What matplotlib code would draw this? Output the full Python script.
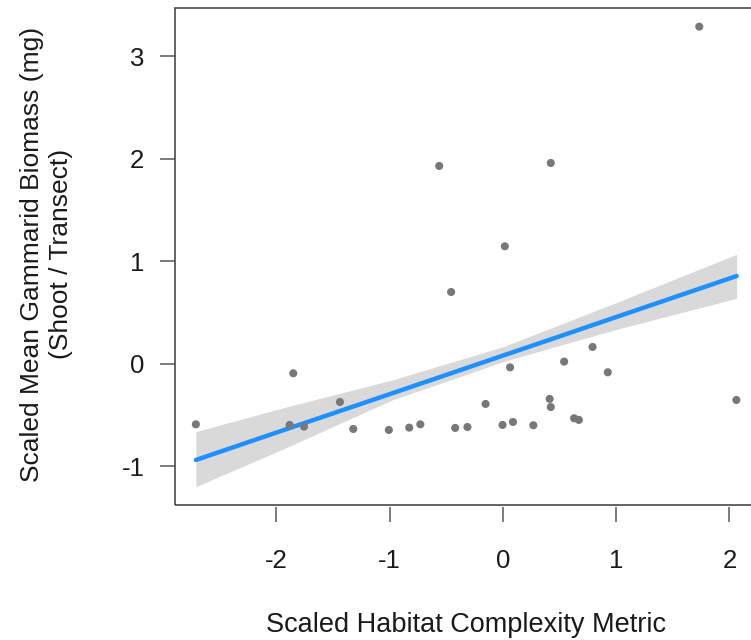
import numpy as np
import matplotlib
matplotlib.use("Agg")
import matplotlib.pyplot as plt
from matplotlib.patches import Rectangle

# observed points (scaled habitat complexity vs scaled gammarid biomass)
hab_x = [-2.712, -1.852, -1.884, -1.757, -1.440, -1.322, -1.008, -0.828, -0.730,
         -0.563, -0.458, -0.422, -0.314, -0.154, -0.004, 0.016, 0.062, 0.088,
         0.268, 0.412, 0.422, 0.422, 0.540, 0.628, 0.670, 0.791, 0.925, 1.733, 2.061]
bio_y = [-0.589, -0.091, -0.595, -0.611, -0.371, -0.634, -0.644, -0.621, -0.589,
         1.932, 0.702, -0.624, -0.615, -0.390, -0.595, 1.148, -0.033, -0.566,
         -0.598, -0.341, 1.961, -0.420, 0.023, -0.530, -0.546, 0.166, -0.081, 3.291, -0.351]

# model prediction with confidence band
pred_x = [-2.712, -1.960, -0.978, 0.003, 0.494, 0.984, 2.063]
pred_fit = [-0.937, -0.654, -0.286, 0.083, 0.267, 0.452, 0.858]
pred_lo = [-1.197, -0.839, -0.351, 0.023, 0.179, 0.332, 0.641]
pred_hi = [-0.660, -0.433, -0.156, 0.169, 0.380, 0.592, 1.070]

xticks = [-2, -1, 0, 1, 2]
yticks = [-1, 0, 1, 2, 3]

plt.rcParams['font.family'] = ['Liberation Sans', 'DejaVu Sans']
plt.rcParams['axes.unicode_minus'] = False

fig = plt.figure(figsize=(7.51, 6.4), dpi=100)
# axes box runs past the right edge of the figure, as in the reference crop
ax = fig.add_axes([175 / 751, 135 / 640, 625 / 751, 497 / 640])

ax.fill_between(pred_x, pred_lo, pred_hi, color='#d9d9d9', lw=0, zorder=1)
ax.plot(pred_x, pred_fit, color='#1E90FF', lw=3.2, solid_capstyle='round', zorder=2)
ax.scatter(hab_x, bio_y, s=34, color='#787878', edgecolors='none', zorder=3)

ax.set_xlim(-2.8962, -2.8962 + 625 / 113.25)
ax.set_ylim(-1.376, 3.473)
ax.set_xticks(xticks)
ax.set_xticklabels([str(v) for v in xticks])
ax.set_yticks(yticks)
ax.set_yticklabels([str(v) for v in yticks])

for s in ax.spines.values():
    s.set_visible(False)
ax.spines['bottom'].set_position(('outward', 1.5))
ax.add_patch(Rectangle((0, 0), 1, 1, transform=ax.transAxes, fill=False,
                       ec='#3a3a3a', lw=1.1, clip_on=False, zorder=5))

ax.tick_params(axis='x', length=11, width=1.2, color='#666666', pad=19,
               labelsize=18.5, labelcolor='#1a1a1a')
ax.tick_params(axis='y', length=11, width=1.2, color='#666666', pad=11,
               labelsize=18.5, labelcolor='#1a1a1a')

fig.text(466.5 / 751, 1 - 632 / 640, "Scaled Habitat Complexity Metric",
         ha='center', va='baseline', fontsize=19.5, color='#1a1a1a')
fig.text(46.5 / 751, 1 - 254 / 640,
         "Scaled Mean Gammarid Biomass (mg)\n(Shoot / Transect)",
         ha='center', va='center', rotation=90, multialignment='center',
         linespacing=1.22, fontsize=19, color='#1a1a1a')

fig.savefig("out.png", dpi=100)
